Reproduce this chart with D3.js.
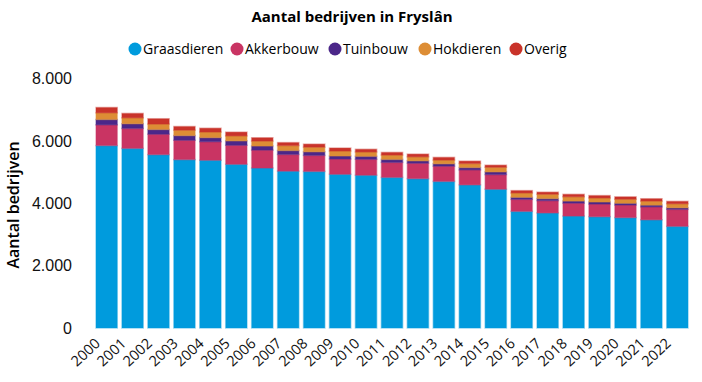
<!DOCTYPE html>
<html>
<head>
<meta charset="utf-8">
<script src="https://cdn.jsdelivr.net/npm/d3@7"></script>
<style>
	body { margin: 0; background: #fff; }
	svg { display: block; font-family: "Open Sans", "Noto Sans", sans-serif; }
</style>
</head>
<body>
<div id="chart"></div>
<script>
// Data
const years = ["2000", "2001", "2002", "2003", "2004", "2005", "2006", "2007", "2008", "2009", "2010", "2011",
	"2012", "2013", "2014", "2015", "2016", "2017", "2018", "2019", "2020", "2021", "2022"];
const series = ["Graasdieren", "Akkerbouw", "Tuinbouw", "Hokdieren", "Overig"];
const colors = ["#009bdd", "#c93463", "#4b2789", "#dd8d35", "#c9332a"];
const graasdieren = [5850, 5760, 5560, 5400, 5380, 5250, 5130, 5030, 5020, 4930, 4900, 4830, 4790, 4700, 4590, 4450, 3740, 3690, 3590, 3570, 3540, 3470, 3260];
const akkerbouw = [665, 640, 655, 620, 595, 610, 575, 535, 515, 490, 510, 480, 495, 490, 480, 470, 385, 395, 415, 405, 405, 415, 545];
const tuinbouw = [170, 150, 150, 150, 130, 140, 130, 125, 115, 95, 95, 95, 75, 75, 75, 85, 65, 65, 65, 65, 55, 55, 50];
const hokdieren = [215, 190, 175, 175, 180, 160, 160, 160, 150, 160, 140, 140, 130, 120, 130, 150, 140, 140, 140, 130, 130, 130, 130];
const overig = [170, 140, 170, 115, 120, 120, 105, 95, 95, 95, 85, 85, 85, 85, 75, 65, 75, 65, 75, 75, 75, 75, 75];
const yTicks = [0, 2000, 4000, 6000, 8000];

const width = 702, height = 382;
const rows = years.map((y, i) => ({
	year: y,
	Graasdieren: graasdieren[i], Akkerbouw: akkerbouw[i], Tuinbouw: tuinbouw[i],
	Hokdieren: hokdieren[i], Overig: overig[i]
}));

const svg = d3.select("#chart").append("svg")
	.attr("width", width)
	.attr("height", height);

const x = d3.scaleBand().domain(years).range([96, 688]).paddingInner(0.18).paddingOuter(0);
const y = d3.scaleLinear().domain([0, 8000]).range([328, 78.5]);
const color = d3.scaleOrdinal().domain(series).range(colors);
const fmt = d3.formatLocale({ decimal: ",", thousands: ".", grouping: [3], currency: ["€", ""] }).format(",");

// title
svg.append("text")
	.attr("x", 352).attr("y", 22)
	.attr("text-anchor", "middle")
	.style("font-size", "15px").style("font-weight", "bold")
	.text("Aantal bedrijven in Fryslân");

// legend
const legendX = [135, 237, 335, 425, 516];
const legend = svg.selectAll(".legend")
	.data(series)
	.enter().append("g")
	.attr("class", "legend")
	.attr("transform", (d, i) => `translate(${legendX[i]},49)`);
legend.append("circle").attr("r", 6.5).attr("fill", d => color(d));
legend.append("text")
	.attr("x", 8).attr("y", 5)
	.style("font-size", "14px")
	.text(d => d);

// y axis (no lines)
const yAxis = svg.append("g").attr("transform", "translate(72,0)")
	.call(d3.axisLeft(y).tickValues(yTicks).tickFormat(fmt).tickSize(0).tickPadding(0));
yAxis.select(".domain").remove();
yAxis.selectAll("text").style("font-size", "16px").style("font-family", "inherit").attr("fill", "#111");

svg.append("text")
	.attr("transform", "translate(19,205) rotate(-90)")
	.attr("text-anchor", "middle")
	.style("font-size", "16px").style("font-weight", "600")
	.text("Aantal bedrijven");

// stacked bars
const stacked = d3.stack().keys(series)(rows);
svg.selectAll(".layer")
	.data(stacked)
	.enter().append("g")
	.attr("class", "layer")
	.attr("fill", d => color(d.key))
	.attr("stroke", d => color(d.key))
	.selectAll("rect")
	.data(d => d)
	.enter().append("rect")
	.attr("x", d => x(d.data.year))
	.attr("y", d => y(d[1]))
	.attr("width", x.bandwidth())
	.attr("height", d => y(d[0]) - y(d[1]))
	.attr("stroke-opacity", 0.4)
	.attr("stroke-width", 1.5);

// x labels
svg.selectAll(".xlab")
	.data(years)
	.enter().append("text")
	.attr("class", "xlab")
	.attr("transform", d => `translate(${x(d) + x.bandwidth() / 2 - 9},${341}) rotate(-43)`)
	.attr("text-anchor", "end")
	.attr("dy", "0.35em")
	.style("font-size", "14.5px")
	.attr("fill", "#111")
	.text(d => d);
</script>
</body>
</html>
